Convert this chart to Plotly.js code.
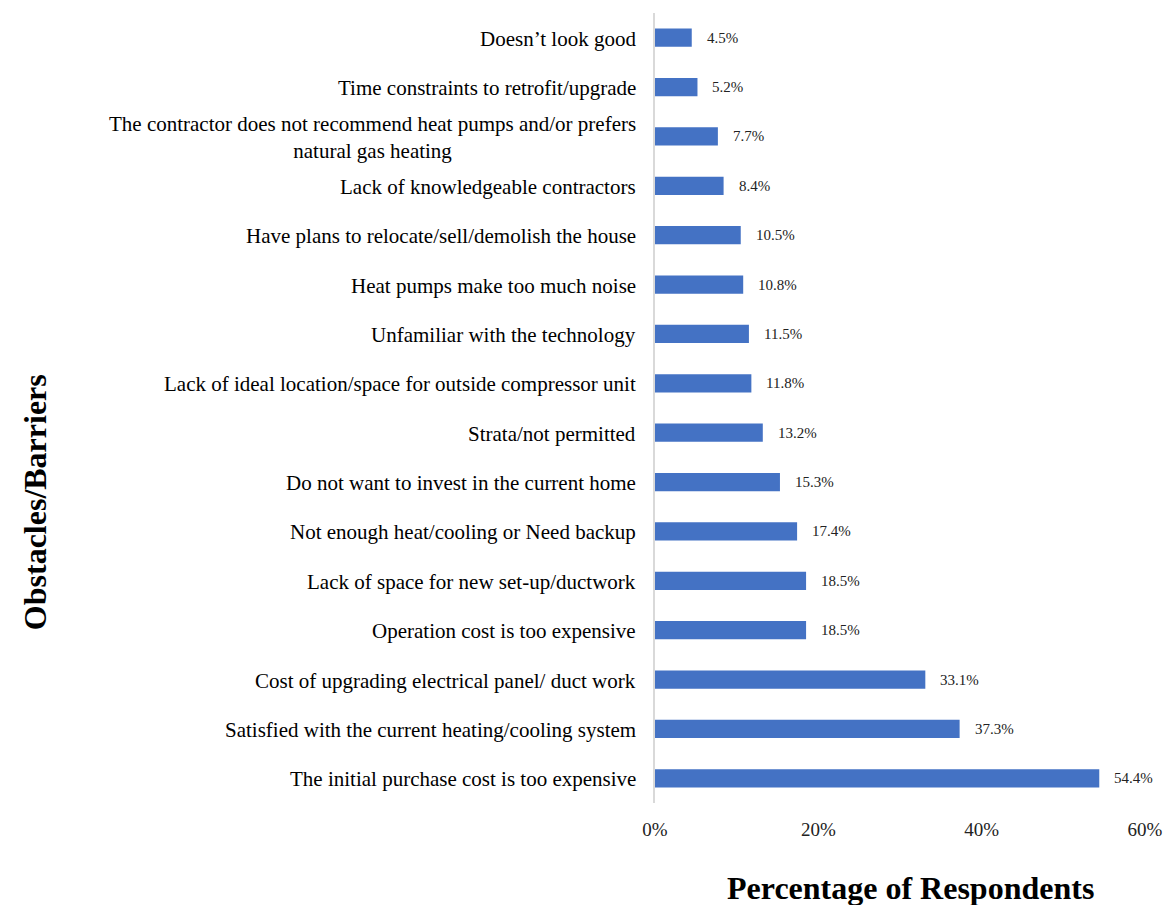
<!DOCTYPE html>
<html>
<head>
<meta charset="utf-8">
<script src="https://cdn.plot.ly/plotly-3.0.1.min.js"></script>
<style>html,body{margin:0;padding:0;background:#fff;}#chart{width:1167px;height:905px;}</style>
</head>
<body>
<div id="chart"></div>
<script>
// Categories listed bottom to top
const categories = [
  "The initial purchase cost is too expensive",
  "Satisfied with the current heating/cooling system",
  "Cost of upgrading electrical panel/ duct work",
  "Operation cost is too expensive",
  "Lack of space for new set-up/ductwork",
  "Not enough heat/cooling or Need backup",
  "Do not want to invest in the current home",
  "Strata/not permitted",
  "Lack of ideal location/space for outside compressor unit",
  "Unfamiliar with the technology",
  "Heat pumps make too much noise",
  "Have plans to relocate/sell/demolish the house",
  "Lack of knowledgeable contractors",
  "The contractor does not recommend heat pumps and/or prefers<br>natural gas heating",
  "Time constraints to retrofit/upgrade",
  "Doesn\u2019t look good"
];
const percentages = [54.4, 37.3, 33.1, 18.5, 18.5, 17.4, 15.3, 13.2, 11.8, 11.5, 10.8, 10.5, 8.4, 7.7, 5.2, 4.5];
const xTickValues = [0, 20, 40, 60];
const xTickLabels = ["0%", "20%", "40%", "60%"];
const xTitle = "Percentage of Respondents";
const yTitle = "Obstacles/Barriers";

const serif = "Liberation Serif, Times New Roman, serif";

const trace = {
  type: "bar",
  orientation: "h",
  x: percentages,
  y: categories,
  marker: {color: "#4472C4"},
  hoverinfo: "none"
};

const annotations = [];
categories.forEach((c, i) => {
  annotations.push({
    xref: "paper", yref: "y", x: 0, y: c, xshift: -17, yshift: -1,
    xanchor: "right", yanchor: "middle", align: "center",
    text: c, showarrow: false,
    font: {family: serif, size: 21, color: "#000"}
  });
  annotations.push({
    xref: "x", yref: "y", x: percentages[i], y: c, xshift: 13,
    xanchor: "left", yanchor: "middle",
    text: percentages[i].toFixed(1) + "%", showarrow: false,
    font: {family: serif, size: 15, color: "#222"}
  });
});
annotations.push({
  xref: "paper", yref: "paper", x: -1.265, y: 0.381,
  xanchor: "center", yanchor: "middle", textangle: -90,
  text: "<b>" + yTitle + "</b>", showarrow: false,
  font: {family: serif, size: 32, color: "#000"}
});
annotations.push({
  xref: "paper", yref: "paper", x: 0.522, y: -0.107,
  xanchor: "center", yanchor: "middle",
  text: "<b>" + xTitle + "</b>", showarrow: false,
  font: {family: serif, size: 32, color: "#000"}
});

const layout = {
  width: 1167, height: 905,
  margin: {l: 655, r: 22, t: 13, b: 102},
  paper_bgcolor: "#fff", plot_bgcolor: "#fff",
  showlegend: false,
  bargap: 0.63,
  xaxis: {
    range: [0, 60],
    tickvals: xTickValues, ticktext: xTickLabels,
    showgrid: false, zeroline: false, showline: false,
    ticks: "", ticklabelstandoff: 13,
    tickfont: {family: serif, size: 19, color: "#222"},
    fixedrange: true
  },
  yaxis: {
    type: "category",
    categoryorder: "array", categoryarray: categories,
    range: [-0.5, 15.5],
    showticklabels: false, ticks: "",
    showgrid: false, zeroline: false,
    showline: true, linecolor: "#d9d9d9", linewidth: 2,
    fixedrange: true
  },
  annotations: annotations
};

Plotly.newPlot("chart", [trace], layout, {displayModeBar: false, staticPlot: true});
</script>
</body>
</html>
